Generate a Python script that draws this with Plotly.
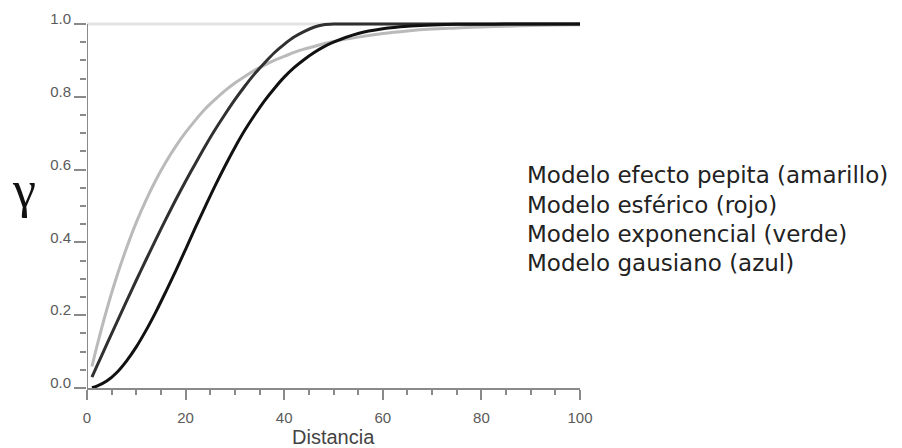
import plotly.graph_objects as go

# distances (x) shared by the model curves
dist = [1, 2, 4, 6, 8, 10, 12, 14, 16, 18, 20, 22, 24, 26, 28, 30, 32, 34, 36, 38,
        40, 42, 44, 46, 48, 50, 55, 60, 65, 70, 75, 80, 85, 90, 95, 100]

# nugget effect model (flat at 1)
nugget_x = [0, 100]
nugget_y = [1.0, 1.0]

# exponential model (light grey)
expo = [0.059, 0.114, 0.215, 0.305, 0.384, 0.455, 0.517, 0.572, 0.621, 0.664,
        0.702, 0.736, 0.767, 0.793, 0.817, 0.838, 0.856, 0.873, 0.887, 0.900,
        0.911, 0.922, 0.931, 0.938, 0.946, 0.952, 0.964, 0.974, 0.981, 0.986,
        0.989, 0.992, 0.994, 0.996, 0.997, 0.998]

# spherical model (dark grey)
spher = [0.030, 0.060, 0.120, 0.179, 0.238, 0.296, 0.353, 0.409, 0.464, 0.517,
         0.568, 0.617, 0.665, 0.710, 0.752, 0.792, 0.829, 0.863, 0.893, 0.921,
         0.944, 0.964, 0.979, 0.991, 0.998, 1.0, 1.0, 1.0, 1.0, 1.0,
         1.0, 1.0, 1.0, 1.0, 1.0, 1.0]

# gaussian model (black)
gauss = [0.001, 0.005, 0.019, 0.042, 0.074, 0.113, 0.159, 0.210, 0.265, 0.322,
         0.381, 0.441, 0.499, 0.556, 0.610, 0.661, 0.708, 0.750, 0.789, 0.823,
         0.854, 0.880, 0.902, 0.921, 0.937, 0.950, 0.974, 0.987, 0.994, 0.997,
         0.999, 0.9995, 0.9998, 1.0, 1.0, 1.0]

legend_lines = ["Modelo efecto pepita (amarillo)", "Modelo esférico (rojo)",
                "Modelo exponencial (verde)", "Modelo gausiano (azul)"]

x_ticks = [0, 20, 40, 60, 80, 100]
y_ticks = [0.0, 0.2, 0.4, 0.6, 0.8, 1.0]
y_ticklabels = ["0.0", "0.2", "0.4", "0.6", "0.8", "1.0"]

AX = "#8a8a8a"

fig = go.Figure()
fig.add_trace(go.Scatter(x=nugget_x, y=nugget_y, mode="lines",
                         line=dict(color="#e4e4e4", width=3)))
fig.add_trace(go.Scatter(x=dist, y=expo, mode="lines",
                         line=dict(color="#bababa", width=3, shape="spline")))
fig.add_trace(go.Scatter(x=dist, y=spher, mode="lines",
                         line=dict(color="#303030", width=3, shape="spline", smoothing=0.6)))
fig.add_trace(go.Scatter(x=dist, y=gauss, mode="lines",
                         line=dict(color="#111111", width=3, shape="spline")))

# y axis line from 0 to 1
fig.add_shape(type="line", xref="x", yref="y", x0=0, x1=0, y0=0, y1=1,
              line=dict(color=AX, width=2), layer="above")

ypos = [0.578, 0.498, 0.418, 0.340]
for t, yy in zip(legend_lines, ypos):
    fig.add_annotation(text=t, xref="paper", yref="paper", x=0.888, y=yy,
                       xanchor="left", yanchor="middle", showarrow=False,
                       font=dict(family="DejaVu Sans", size=23, color="#222222"))

fig.add_annotation(text="γ", xref="paper", yref="paper", x=-0.127, y=0.540,
                   xanchor="center", yanchor="middle", showarrow=False,
                   font=dict(family="Liberation Serif", size=52, color="#111111"))

fig.add_annotation(text="Distancia", xref="paper", yref="paper", x=0.5, y=-0.132,
                   xanchor="center", yanchor="middle", showarrow=False,
                   font=dict(family="Liberation Sans", size=20, color="#444444"))

fig.update_layout(
    width=902, height=448,
    margin=dict(l=87, r=322, t=20, b=60, autoexpand=False),
    plot_bgcolor="white", paper_bgcolor="white",
    showlegend=False,
    xaxis=dict(range=[0, 100], tickvals=x_ticks, ticktext=[str(v) for v in x_ticks],
               automargin=False,
               showgrid=False, zeroline=False, showline=True, linecolor=AX, linewidth=2,
               ticks="outside", ticklen=10, tickwidth=2, tickcolor=AX,
               minor=dict(dtick=5, ticks="outside", ticklen=5, tickwidth=2, tickcolor=AX),
               ticklabelstandoff=5,
               tickfont=dict(family="Liberation Sans", size=15, color="#5a5a5a")),
    yaxis=dict(range=[0, 1.011], tickvals=y_ticks, ticktext=y_ticklabels,
               automargin=False,
               showgrid=False, zeroline=False, showline=False,
               ticks="outside", ticklen=12, tickwidth=2, tickcolor=AX,
               minor=dict(dtick=0.05, ticks="outside", ticklen=6, tickwidth=2, tickcolor=AX),
               ticklabelshift=-5,
               tickfont=dict(family="Liberation Sans", size=15, color="#5a5a5a")),
)

fig.write_html("out.html")
